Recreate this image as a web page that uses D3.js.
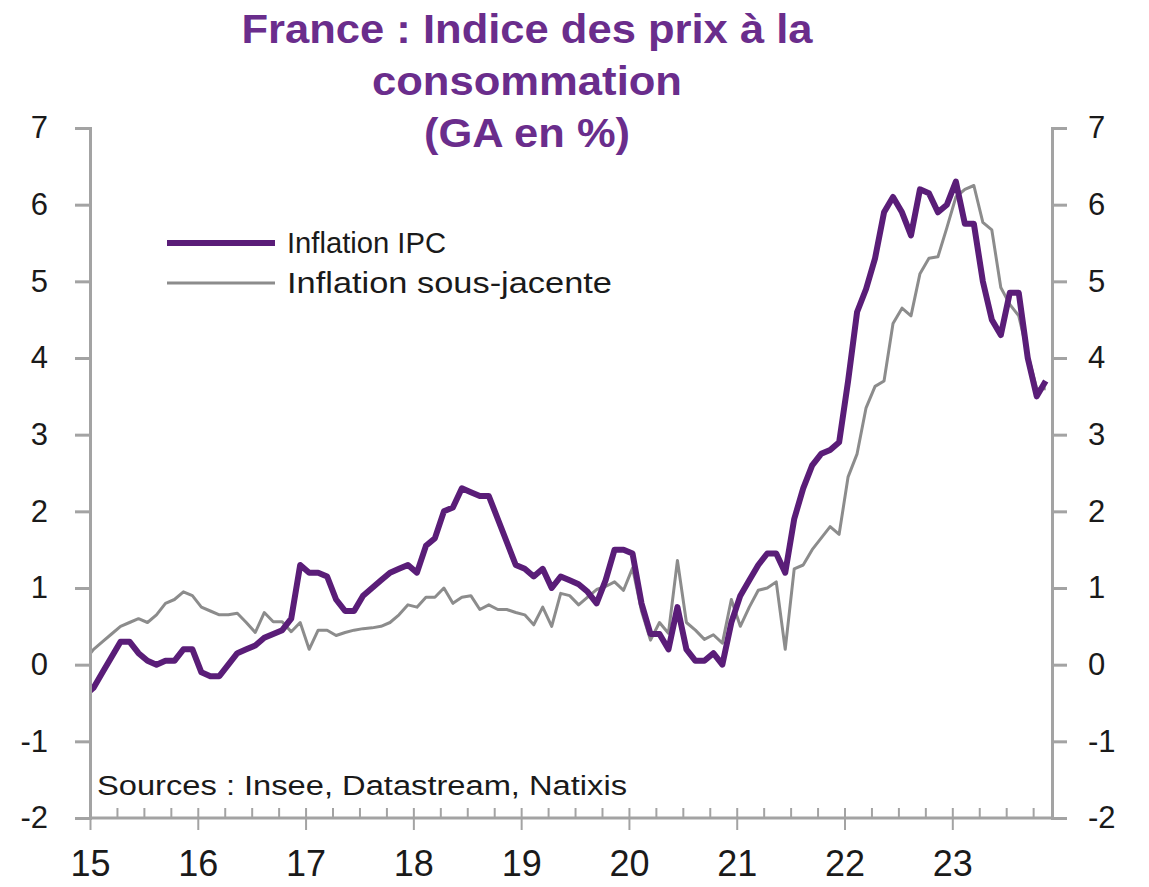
<!DOCTYPE html>
<html><head><meta charset="utf-8">
<script src="https://cdn.jsdelivr.net/npm/d3@7"></script>
<style>body{margin:0;background:#fff;}svg{display:block;font-family:"Liberation Sans",Arial,sans-serif;}</style>
</head><body>
<svg id="c" width="1149" height="887"></svg>
<script>
// ---- data (monthly, Jan 2015 .. Dec 2023) ----
const yearLabels = ["15","16","17","18","19","20","21","22","23"];
const ipc = [
 -0.4,-0.3,-0.1,0.1,0.3,0.3,0.15,0.05,0.0,0.05,0.05,0.2,
 0.2,-0.1,-0.15,-0.15,0.0,0.15,0.2,0.25,0.35,0.4,0.45,0.6,
 1.3,1.2,1.2,1.15,0.85,0.7,0.7,0.9,1.0,1.1,1.2,1.25,
 1.3,1.2,1.55,1.65,2.0,2.05,2.3,2.25,2.2,2.2,1.9,1.6,
 1.3,1.25,1.15,1.25,1.0,1.15,1.1,1.05,0.95,0.8,1.1,1.5,
 1.5,1.45,0.8,0.4,0.4,0.2,0.75,0.2,0.05,0.05,0.15,0.0,
 0.55,0.9,1.1,1.3,1.45,1.45,1.2,1.9,2.3,2.6,2.75,2.8,
 2.9,3.7,4.6,4.9,5.3,5.9,6.1,5.9,5.6,6.2,6.15,5.9,
 6.0,6.3,5.75,5.75,5.0,4.5,4.3,4.85,4.85,4.0,3.5,3.7
];
const core = [
 0.05,0.2,0.3,0.4,0.5,0.55,0.6,0.55,0.65,0.8,0.85,0.95,
 0.9,0.75,0.7,0.65,0.65,0.67,0.55,0.42,0.68,0.56,0.56,0.43,
 0.55,0.2,0.45,0.45,0.38,0.42,0.45,0.47,0.48,0.5,0.55,0.65,
 0.78,0.75,0.88,0.88,1.0,0.8,0.88,0.9,0.72,0.78,0.72,0.72,
 0.68,0.65,0.52,0.75,0.5,0.93,0.9,0.78,0.88,0.98,1.02,1.08,
 0.97,1.26,0.7,0.32,0.55,0.41,1.36,0.55,0.45,0.33,0.39,0.28,
 0.85,0.5,0.75,0.97,1.0,1.08,0.2,1.25,1.3,1.5,1.65,1.8,
 1.7,2.45,2.75,3.35,3.63,3.7,4.45,4.65,4.55,5.1,5.3,5.32,
 5.7,6.1,6.2,6.25,5.77,5.67,4.92,4.7,4.55,4.05,3.6,3.6
];
const yTicks = [-2,-1,0,1,2,3,4,5,6,7];
const seriesNames = ["Inflation IPC","Inflation sous-jacente"];
const titleLines = ["France : Indice des prix à la","consommation","(GA en %)"];
const sourceText = "Sources : Insee, Datastream, Natixis";

// ---- layout ----
const L = 90, R = 1052, T = 128, B = 818;
const offset = 0.6; // axis starts slightly after first data month
const x = d3.scaleLinear().domain([offset, 107.7]).range([L, R]);
const y = d3.scaleLinear().domain([-2, 7]).range([B, T]);
const purple = "#5a1d78", gray = "#8c8c8c", axisC = "#a3a3a3";
const svg = d3.select("#c");

// title
svg.append("g").selectAll("text").data(titleLines).join("text")
  .attr("x", 527).attr("y", (d,i)=>43+i*52)
  .attr("text-anchor","middle").attr("fill","#6a2d8c")
  .attr("font-weight","bold").attr("font-size",40)
  .attr("textLength",(d,i)=>[571,310,206][i]).attr("lengthAdjust","spacingAndGlyphs")
  .text(d=>d);

// lines
svg.append("clipPath").attr("id","clip").append("rect")
  .attr("x",L).attr("y",0).attr("width",R-L).attr("height",B);
const line = d3.line().x((d,i)=>x(i)).y(d=>y(d));
const g = svg.append("g").attr("clip-path","url(#clip)");
g.append("path").datum(core).attr("d",line).attr("fill","none")
  .attr("stroke",gray).attr("stroke-width",3).attr("stroke-linejoin","round");
g.append("path").datum(ipc).attr("d",line).attr("fill","none")
  .attr("stroke",purple).attr("stroke-width",6).attr("stroke-linejoin","round");

// axes
const fmt = d => String(d);
const yAxisL = d3.axisLeft(y).tickValues(yTicks).tickSize(15).tickFormat(fmt);
const yAxisR = d3.axisRight(y).tickValues(yTicks).tickSize(15).tickFormat(fmt);
const gl = svg.append("g").attr("transform",`translate(${L},0)`).call(yAxisL);
const gr = svg.append("g").attr("transform",`translate(${R},0)`).call(yAxisR);
[gl,gr].forEach(a=>{
  a.select(".domain").attr("stroke",axisC).attr("stroke-width",3);
  a.selectAll(".tick line").attr("stroke",axisC).attr("stroke-width",3);
  a.selectAll(".tick text").attr("font-size",31).attr("fill","#1a1a1a")
   .attr("font-family","'Liberation Sans',Arial,sans-serif");
});
gl.selectAll(".tick text").attr("x",-42);
gr.selectAll(".tick text").attr("x",36).attr("text-anchor","start");

const majorVals = yearLabels.map((d,i)=>offset+12*i);
const minorVals = d3.range(0,36).map(k=>offset+3*k).filter(v=>Math.round(v-offset)%12!==0);
const xMinor = d3.axisTop(x).tickValues(minorVals).tickSize(10).tickFormat("");
svg.append("g").attr("transform",`translate(0,${B})`).call(xMinor)
  .call(a=>{a.select(".domain").remove();a.selectAll("line").attr("stroke",axisC).attr("stroke-width",2);});
const xMajor = d3.axisBottom(x).tickValues(majorVals).tickSize(12).tickPadding(20)
  .tickFormat((d,i)=>yearLabels[i]);
const gx = svg.append("g").attr("transform",`translate(0,${B})`).call(xMajor);
gx.select(".domain").attr("stroke",axisC).attr("stroke-width",3).attr("d",`M${L},0H${R}`);
gx.selectAll(".tick line").attr("stroke",axisC).attr("stroke-width",2).attr("y1",-10);
gx.selectAll(".tick text").attr("font-size",36).attr("fill","#1a1a1a")
  .attr("font-family","'Liberation Sans',Arial,sans-serif");

// legend
const leg = svg.append("g");
[[purple,6,243],[gray,3,283]].forEach((s,i)=>{
  leg.append("line").attr("x1",167).attr("x2",275).attr("y1",s[2]).attr("y2",s[2])
    .attr("stroke",s[0]).attr("stroke-width",s[1]);
  leg.append("text").attr("x",287).attr("y",s[2]+10).attr("font-size",29).attr("fill","#1a1a1a")
    .attr("textLength",[159,325][i]).attr("lengthAdjust","spacingAndGlyphs").text(seriesNames[i]);
});

// source
svg.append("text").attr("x",97).attr("y",795).attr("font-size",27).attr("fill","#1a1a1a")
  .attr("textLength",530).attr("lengthAdjust","spacingAndGlyphs").text(sourceText);
</script>
</body></html>
